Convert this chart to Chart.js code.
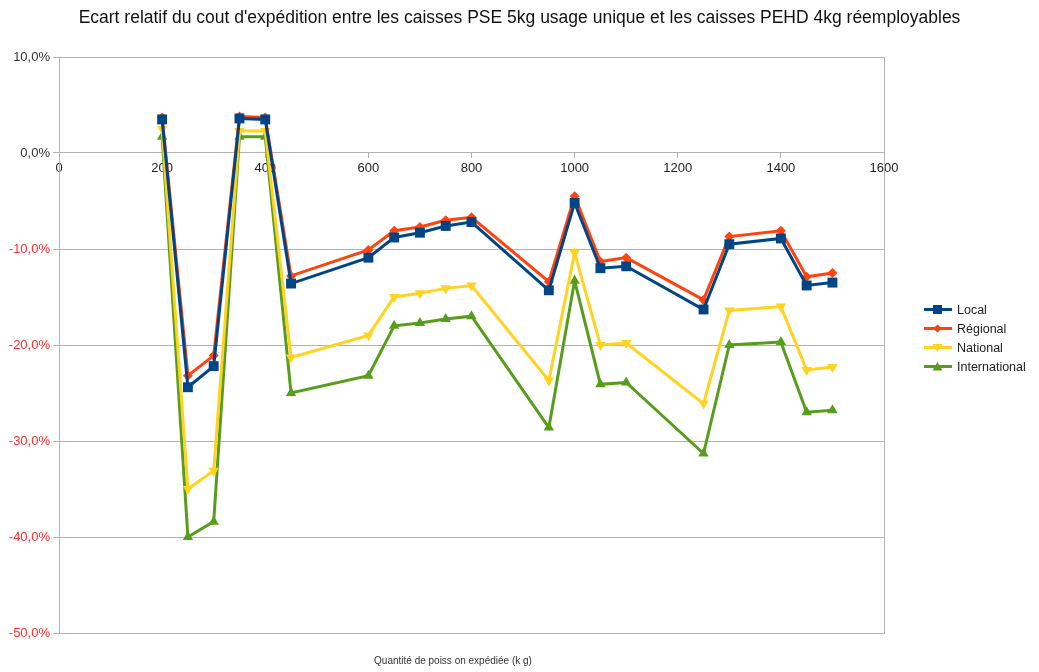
<!DOCTYPE html>
<html>
<head>
<meta charset="utf-8">
<script src="https://cdn.jsdelivr.net/npm/chart.js@4"></script>
<style>
  body { margin: 0; background: #fff; font-family: "Liberation Sans", Arial, sans-serif; }
  #wrap { position: relative; width: 1039px; height: 672px; }
  #title { position: absolute; left: 0; width: 1039px; top: 7px; text-align: center; font-size: 17.5px; color: #111; }
  #xtitle { position: absolute; left: 300px; width: 306px; top: 655px; text-align: center; font-size: 10px; color: #333; }
  #legend { position: absolute; left: 924px; top: 300px; font-size: 12.5px; color: #222; }
  #legend div { height: 19px; display: flex; align-items: center; }
  #legend svg { margin-right: 5px; }
</style>
</head>
<body>
<div id="wrap">
  <div id="title">Ecart relatif du cout d'expédition entre les caisses PSE 5kg usage unique et les caisses PEHD 4kg réemployables</div>
  <canvas id="chart" width="1039" height="672"></canvas>
  <div id="xtitle">Quantité de poiss on expédiée (k g)</div>
  <div id="legend"></div>
</div>
<script>
const quantities = [200, 250, 300, 350, 400, 450, 600, 650, 700, 750, 800, 950, 1000, 1050, 1100, 1250, 1300, 1400, 1450, 1500]
const local = [3.5, -24.4, -22.2, 3.6, 3.5, -13.6, -10.9, -8.8, -8.3, -7.6, -7.2, -14.3, -5.2, -12.0, -11.8, -16.3, -9.5, -8.9, -13.8, -13.5]
const regional = [3.7, -23.2, -21.1, 3.8, 3.7, -12.8, -10.1, -8.1, -7.7, -7.0, -6.7, -13.4, -4.5, -11.3, -10.9, -15.3, -8.7, -8.1, -12.9, -12.5]
const national = [2.5, -35.0, -33.1, 2.3, 2.3, -21.3, -19.0, -15.0, -14.6, -14.1, -13.8, -23.7, -10.4, -20.0, -19.8, -26.1, -16.4, -16.0, -22.6, -22.3]
const international = [1.7, -40.0, -38.4, 1.7, 1.7, -25.0, -23.2, -18.0, -17.7, -17.3, -17.0, -28.6, -13.3, -24.1, -23.9, -31.3, -20.0, -19.7, -27.0, -26.8]

const seriesNames = ['Local', 'Régional', 'National', 'International']
const seriesColors = ['#004586', '#ff420e', '#ffd320', '#579d1c']

function toPoints(values) {
  return quantities.map((q, i) => ({ x: q, y: values[i] }))
}

const fmt = v => v.toFixed(1).replace('.', ',') + '%'

const borderPlugin = {
  id: 'areaBorder',
  beforeDatasetsDraw(chart) {
    const a = chart.chartArea
    const ctx = chart.ctx
    ctx.save()
    ctx.strokeStyle = '#b3b3b3'
    ctx.lineWidth = 1
    ctx.strokeRect(a.left + 0.5, a.top + 0.5, a.right - a.left, a.bottom - a.top)
    ctx.restore()
  }
}

const ctx = document.getElementById('chart').getContext('2d')
new Chart(ctx, {
  type: 'line',
  data: {
    datasets: [
      { label: seriesNames[0], data: toPoints(local), borderColor: seriesColors[0], backgroundColor: seriesColors[0], pointStyle: 'rect', pointRadius: 7 },
      { label: seriesNames[1], data: toPoints(regional), borderColor: seriesColors[1], backgroundColor: seriesColors[1], pointStyle: 'rectRot', pointRadius: 5 },
      { label: seriesNames[2], data: toPoints(national), borderColor: seriesColors[2], backgroundColor: seriesColors[2], pointStyle: 'triangle', pointRotation: 180, pointRadius: 6 },
      { label: seriesNames[3], data: toPoints(international), borderColor: seriesColors[3], backgroundColor: seriesColors[3], pointStyle: 'triangle', pointRadius: 6 }
    ].map(d => Object.assign(d, { borderWidth: 3, tension: 0, pointBorderWidth: 0, pointHoverRadius: 7 }))
  },
  options: {
    responsive: false,
    animation: false,
    layout: { padding: { left: 0, top: 57, right: 155, bottom: 39 } },
    plugins: {
      legend: { display: false },
      title: { display: false },
      tooltip: { enabled: false }
    },
    scales: {
      x: {
        type: 'linear',
        position: { y: 0 },
        min: 0,
        max: 1600,
        ticks: { stepSize: 200, color: '#222', font: { family: 'Liberation Sans', size: 13 }, padding: 3, maxRotation: 0, callback: v => String(v) },
        grid: { drawOnChartArea: false, drawTicks: true, tickLength: 5, color: '#b3b3b3' },
        border: { color: '#b3b3b3' }
      },
      y: {
        min: -50,
        max: 10,
        ticks: {
          stepSize: 10,
          padding: 3,
          font: { family: 'Liberation Sans', size: 13 },
          color: c => c.tick && c.tick.value < 0 ? '#ff2a2a' : '#333',
          callback: v => fmt(v)
        },
        grid: { color: '#b3b3b3', tickLength: 6 },
        border: { color: '#b3b3b3' },
        afterFit(scale) { scale.width = 59 }
      }
    }
  },
  plugins: [borderPlugin]
})

// legend built from the series names and colours
const shapes = [
  '<rect x="9" y="1" width="9" height="9"/>',
  '<polygon points="13.5,1.5 18,5.5 13.5,9.5 9,5.5"/>',
  '<polygon points="8.5,2 18.5,2 13.5,10"/>',
  '<polygon points="13.5,1 18.5,9.5 8.5,9.5"/>'
]
document.getElementById('legend').innerHTML = seriesNames.map((n, i) =>
  '<div><svg width="28" height="11" fill="' + seriesColors[i] + '"><line x1="0" y1="5.5" x2="28" y2="5.5" stroke="' + seriesColors[i] + '" stroke-width="3"/>' + shapes[i] + '</svg>' + n + '</div>'
).join('')
</script>
</body>
</html>
